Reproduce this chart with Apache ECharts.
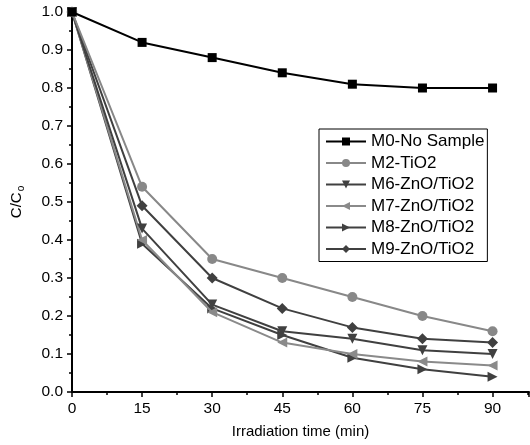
<!DOCTYPE html>
<html><head><meta charset="utf-8">
<script src="https://cdn.jsdelivr.net/npm/echarts@6/dist/echarts.min.js"></script>
<style>html,body{margin:0;padding:0;background:#fff}#c{width:530px;height:445px}</style>
</head><body><div id="c"></div>
<script>
const times = [0, 15, 30, 45, 60, 75, 90];
const seriesNames = ['M0-No Sample', 'M2-TiO2', 'M6-ZnO/TiO2', 'M7-ZnO/TiO2', 'M8-ZnO/TiO2', 'M9-ZnO/TiO2'];
const m0 = [1.0, 0.92, 0.88, 0.84, 0.81, 0.80, 0.80];
const m2 = [1.0, 0.54, 0.35, 0.30, 0.25, 0.20, 0.16];
const m6 = [1.0, 0.43, 0.23, 0.16, 0.14, 0.11, 0.10];
const m7 = [1.0, 0.40, 0.21, 0.13, 0.10, 0.08, 0.07];
const m8 = [1.0, 0.39, 0.22, 0.15, 0.09, 0.06, 0.04];
const m9 = [1.0, 0.49, 0.30, 0.22, 0.17, 0.14, 0.13];
const allValues = [m0, m2, m6, m7, m8, m9];
const colors = ['#000000', '#888888', '#404040', '#8a8a8a', '#404040', '#404040'];
const symbols = ['rect', 'circle', 'path://M0,0 L10,0 L5,9 Z', 'path://M9,0 L9,10 L0,5 Z', 'path://M0,0 L0,10 L9,5 Z', 'diamond'];
const sizes = [9, 10, 10, 10, 10, 11];

const chart = echarts.init(document.getElementById('c'), null, {renderer: 'canvas'});
const font = 'Liberation Sans, Arial, sans-serif';
chart.setOption({
  animation: false,
  backgroundColor: '#fff',
  grid: {left: 72, right: 1, top: 12, bottom: 53},
  xAxis: {
    type: 'value', min: 0, max: 97.8, interval: 15,
    axisLine: {lineStyle: {color: '#000', width: 2}},
    axisTick: {show: true, inside: false, length: 5, lineStyle: {color: '#000', width: 1.5}},
    minorTick: {show: true, splitNumber: 2, length: 3, lineStyle: {color: '#000', width: 1.5}},
    axisLabel: {color: '#000', fontSize: 15.5, fontFamily: font, showMaxLabel: false, margin: 9},
    splitLine: {show: false},
    name: 'Irradiation time (min)', nameLocation: 'middle', nameGap: 32,
    nameTextStyle: {color: '#000', fontSize: 15, fontFamily: font}
  },
  yAxis: {
    type: 'value', min: 0, max: 1.0, interval: 0.1,
    axisLine: {show: true, lineStyle: {color: '#000', width: 2}},
    axisTick: {show: true, inside: false, length: 5, lineStyle: {color: '#000', width: 1.5}},
    minorTick: {show: true, splitNumber: 2, length: 3, lineStyle: {color: '#000', width: 1.5}},
    axisLabel: {color: '#000', fontSize: 15.5, fontFamily: font, formatter: v => v.toFixed(1), margin: 9},
    splitLine: {show: false},
    name: '{a|C/C}{b|o}', nameLocation: 'middle', nameGap: 46, nameRotate: 90,
    nameTextStyle: {color: '#000', fontSize: 15, fontFamily: font,
      rich: {a: {fontSize: 15, fontFamily: font, color: '#000'}, b: {fontSize: 10, fontFamily: font, color: '#000', verticalAlign: 'bottom', padding: [9, 0, 0, 1]}}}
  },
  legend: {
    orient: 'vertical', left: 319, top: 129,
    backgroundColor: '#fff', borderColor: '#000', borderWidth: 1,
    padding: [4, 3, 4, 6], itemGap: 4.5, itemWidth: 40, itemHeight: 10,
    textStyle: {color: '#000', fontSize: 17, fontFamily: font},
    data: seriesNames
  },
  series: seriesNames.map((n, i) => ({
    name: n, type: 'line',
    data: times.map((t, j) => [t, allValues[i][j]]),
    symbol: symbols[i], symbolSize: sizes[i],
    showAllSymbol: true,
    lineStyle: {color: colors[i], width: 2},
    itemStyle: {color: colors[i]},
    z: 10 - i
  }))
});
</script></body></html>
